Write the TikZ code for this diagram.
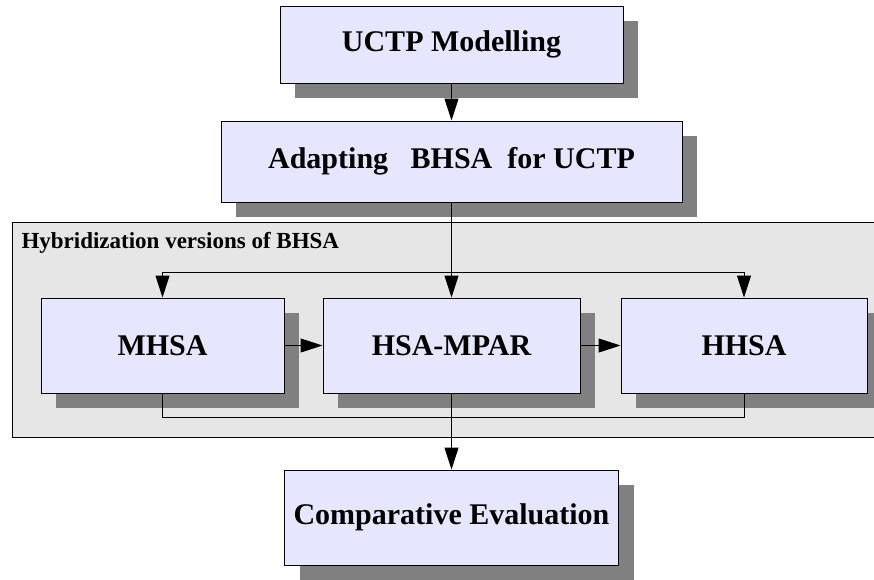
\documentclass[tikz,border=0pt]{standalone}
\usepackage{fontspec}
\setmainfont{Liberation Serif}
\usetikzlibrary{arrows.meta,shadows}
\definecolor{boxfill}{HTML}{E6E6FF}
\definecolor{panelfill}{HTML}{E6E6E6}
\definecolor{shadowgray}{HTML}{808080}
\begin{document}
\begin{tikzpicture}[x=1pt,y=-1pt,line width=1pt]

      \useasboundingbox (0,0) rectangle (874,579);

      \draw[fill=panelfill] (12,222) rectangle (890,437);
      \node[anchor=base west, inner sep=0pt, font=\fontsize{23}{27}\selectfont\bfseries] (panel) at (21,248) {Hybridization versions of BHSA};

      \begin{scope}[every node/.style={draw, fill=boxfill, inner sep=0pt,
          font=\fontsize{30}{36}\selectfont\bfseries,
          drop shadow={shadow xshift=15pt, shadow yshift=-15pt, fill=shadowgray, opacity=1}}]
        \node[minimum width=343pt, minimum height=77pt] (uctp)  at (451.5,44.5)  {UCTP Modelling};
        \node[minimum width=461pt, minimum height=81pt] (adapt) at (451.5,161.5) {Adapting\ \ \ BHSA\ \ for UCTP};
        \node[minimum width=243pt, minimum height=95pt] (mhsa)  at (162.5,345.5) {MHSA};
        \node[minimum width=257pt, minimum height=95pt] (hsa)   at (451.5,345.5) {HSA-MPAR};
        \node[minimum width=246pt, minimum height=95pt] (hhsa)  at (744,345.5)   {HHSA};
        \node[minimum width=334pt, minimum height=95pt] (comp)  at (451.5,517.5) {Comparative Evaluation};
      \end{scope}

      \coordinate (split) at (451.5,272);
      \coordinate (join)  at (451.5,417);

      \begin{scope}[-{Triangle[length=22pt,width=14pt]}]
        \draw (uctp)  -- (adapt);
        \draw (adapt) -- (hsa);
        \draw (split) -| (mhsa);
        \draw (split) -| (hhsa);
        \draw (mhsa)  -- (hsa);
        \draw (hsa)   -- (hhsa);
        \draw (hsa)   -- (comp);
        \draw[-] (mhsa) |- (join) -| (hhsa);
      \end{scope}

    \end{tikzpicture}
\end{document}
